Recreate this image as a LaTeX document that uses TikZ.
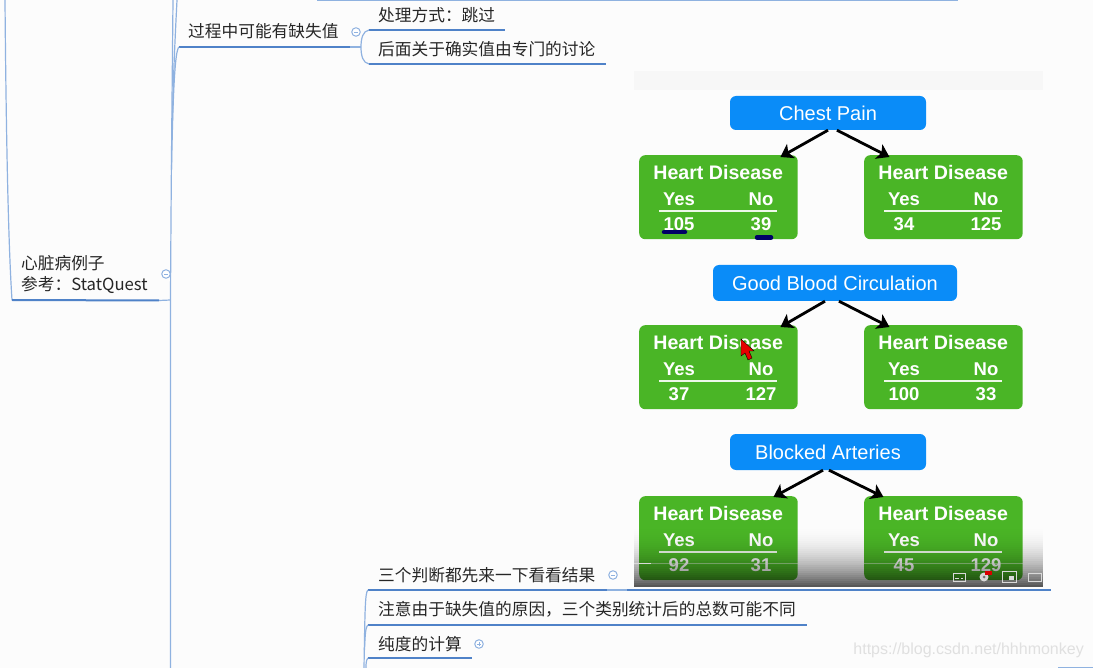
\documentclass[tikz,border=0pt]{standalone}
\usepackage{fontspec}
\usepackage{xcolor}
\setmainfont{Noto Sans CJK SC}
\newfontfamily\helv{Liberation Sans}
\usetikzlibrary{arrows.meta}
\definecolor{mapblue}{HTML}{4F82C8}
\definecolor{twigblue}{HTML}{8FB2E0}
\definecolor{videoblue}{HTML}{0A8CF8}
\definecolor{videogreen}{HTML}{4AB526}

\begin{document}
\begin{tikzpicture}[x=1pt,y=-1pt,
    topic/.style={anchor=west,inner sep=0pt,font=\fontsize{16.7}{20}\selectfont,text=black!85},
    underline/.style={draw=mapblue,line width=2pt},
    twig/.style={draw=twigblue,line width=1.2pt},
    fold/.style={circle,draw=twigblue,fill=white,line width=1pt,minimum size=8.5pt,inner sep=0pt},
    question/.style={rounded corners=6pt,fill=videoblue,text=white,inner sep=0pt,font=\helv\fontsize{20}{24}\selectfont},
    result/.style={rounded corners=6pt,fill=videogreen,minimum width=158.5pt,minimum height=84pt,inner sep=0pt},
    head/.style={text=white,inner sep=0pt,font=\helv\bfseries\fontsize{19.6}{24}\selectfont},
    answer/.style={text=white,inner sep=0pt,font=\helv\bfseries\fontsize{18.5}{22}\selectfont},
    branch/.style={-{Stealth[length=12pt,width=16pt,inset=3pt]},line width=2.8pt,black},
    icon/.style={draw=white!85!black,line width=1pt}]
    \useasboundingbox (0,0) rectangle (1093,668);
    \fill[white!99!black] (0,0) rectangle (1093,668);

    % video frame
    \fill[white!97!black] (634,71) rectangle (1043,90);
    \node[question,minimum width=196pt,minimum height=34pt] (chest) at (828,113) {Chest Pain};
    \node[question,minimum width=244pt,minimum height=36pt] (blood) at (835,283) {Good Blood Circulation};
    \node[question,minimum width=196pt,minimum height=36pt] (artery) at (828,452) {Blocked Arteries};

    \foreach \boxname/\bx/\by/\yes/\no in {chestL/639/155/105/39,chestR/864/155/34/125,
        bloodL/639/325/37/127,bloodR/864/325/100/33,arteryL/639/496/92/31,arteryR/864/496/45/129}{
        \begin{scope}[shift={(\bx,\by)}]
            \node[result,anchor=north west] (\boxname) at (0,0) {};
            \node[head] (\boxname-head) at (79.25,17) {Heart Disease};
            \node[answer] (\boxname-yes) at (40,44) {Yes};
            \node[answer] (\boxname-no) at (122,44) {No};
            \draw[white!90!videogreen,line width=1.2pt] (20,56) -- (137.5,56);
            \node[answer] (\boxname-a) at (40,69) {\yes};
            \node[answer] (\boxname-b) at (122,69) {\no};
        \end{scope}
    }

    \draw[branch] (chest.south) -- ([xshift=62pt,yshift=-2pt]chestL.north);
    \draw[branch] ([xshift=9pt]chest.south) -- ([xshift=-54pt,yshift=-2pt]chestR.north);
    \draw[branch] ([xshift=-10pt]blood.south) -- ([xshift=62pt,yshift=-2pt]bloodL.north);
    \draw[branch] ([xshift=4pt]blood.south) -- ([xshift=-54pt,yshift=-2pt]bloodR.north);
    \draw[branch] ([xshift=-5pt]artery.south) -- ([xshift=55pt,yshift=-1pt]arteryL.north);
    \draw[branch] ([xshift=1pt]artery.south) -- ([xshift=-60pt,yshift=-1pt]arteryR.north);

    % pen marks and pointer
    \draw[blue!40!black,line width=4.5pt,line cap=round] (664,232) -- (685,232);
    \draw[blue!40!black,line width=4.5pt,line cap=round] (757,237.5) -- (771,237.5);
    \fill[red!90!black,draw=black,line width=.4pt] (741,339) -- (741,356) -- (745,353) -- (748,360) -- (752,358) -- (749,351) -- (754,351) -- cycle;

    % player bar
    \foreach \k in {0,...,30}{
        \pgfmathsetmacro{\shade}{.65*(\k/30)*(\k/30)}
        \fill[black,fill opacity=\shade] (634,525+2*\k) rectangle (1043,527+2*\k);
    }
    \draw[white!75!black,opacity=.45,line width=.6pt] (634,563) -- (1043,563);
    \draw[white!85!black,line width=1pt] (634,563) -- (651,563);
    \draw[icon] (953,573) rectangle (965,581);
    \draw[icon] (955,578) -- (959,578) (961,578) -- (963,578);
    \fill[white!85!black] (984,577) circle (4.5pt);
    \fill[black!55] (984,577) circle (1.5pt);
    \fill[red!85!black] (985,571) rectangle (992,575);
    \draw[icon] (1002,571) rectangle (1016,582);
    \fill[white!85!black] (1009,576) rectangle (1014,580);
    \draw[icon] (1028,573) rectangle (1041,581);

    % mind map
    \draw[twig] (317,0) -- (958,0);
    \draw[twig] (1058,668) -- (1093,668);
    \draw[twig] (5,0) .. controls (6,120) and (8,240) .. (12,300) coordinate (rootA);
    \draw[twig] (173,0) .. controls (172,100) and (171,200) .. (170.5,300) coordinate (stemA) -- (170.5,668);
    \draw[twig] (177,0) .. controls (175,40) and (173,80) .. (172,140);

    \draw[underline] (rootA) -- (159,300.5) coordinate (rootB);
    \draw[twig] (rootB) -- (stemA);
    \node[topic] (heart) at (21,263) {心脏病例子};
    \node[topic] (ref) at (21,285) {参考：StatQuest};
    \node[fold] (heartfold) at (166,274) {\tikz\draw[twigblue,line width=.8pt] (0,0) -- (4pt,0);};

    \draw[underline] (179,47) coordinate (missA) -- (350,47) coordinate (missB);
    \draw[twig] (missA) .. controls (175,50) and (173,90) .. (171.5,170);
    \draw[twig] (missB) -- (361,47) coordinate (missC);
    \node[topic] (miss) at (188,31.5) {过程中可能有缺失值};
    \node[fold] (missfold) at (356,32) {\tikz\draw[twigblue,line width=.8pt] (0,0) -- (4pt,0);};

    \draw[underline] (369,30) coordinate (skipA) -- (505,30) coordinate (skipB);
    \draw[underline] (369,64) coordinate (talkA) -- (606,64) coordinate (talkB);
    \draw[twig] (skipA) .. controls (363,31) and (361,38) .. (missC) .. controls (361,56) and (363,63) .. (talkA);
    \node[topic] (skip) at (378,15) {处理方式：跳过};
    \node[topic] (talk) at (378,49) {后面关于确实值由专门的讨论};

    \draw[underline] (368,590) coordinate (tryA) -- (607,590) coordinate (tryB);
    \draw[twig] (tryB) -- (627,590) coordinate (tryC);
    \draw[underline] (tryC) -- (1051,590);
    \draw[underline] (368,625) coordinate (noteA) -- (807,625);
    \draw[underline] (368,658) coordinate (pureA) -- (472,658);
    \draw[twig] (tryA) .. controls (365,592) and (365,610) .. (364,668);
    \draw[twig] (noteA) .. controls (365,627) and (365,640) .. (364.5,650);
    \draw[twig] (pureA) .. controls (366,660) and (366,664) .. (366,668);
    \node[topic] (try) at (378,575) {三个判断都先来一下看看结果};
    \node[fold] (tryfold) at (613,575) {\tikz\draw[twigblue,line width=.8pt] (0,0) -- (4pt,0);};
    \node[topic] (note) at (378,609) {注意由于缺失值的原因，三个类别统计后的总数可能不同};
    \node[topic] (pure) at (378,644) {纯度的计算};
    \node[fold] (purefold) at (479,644) {\tikz\draw[twigblue,line width=.8pt] (-2pt,0) -- (2pt,0) (0,-2pt) -- (0,2pt);};

    \node[anchor=east,inner sep=0pt,text=white!88!black,font=\helv\fontsize{16}{20}\selectfont] (mark) at (1084,650) {https://blog.csdn.net/hhhmonkey};
\end{tikzpicture}
\end{document}
